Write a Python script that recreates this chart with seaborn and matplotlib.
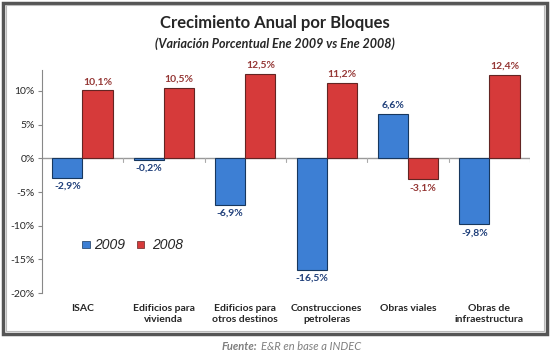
import numpy as np
import pandas as pd
import seaborn as sns
from matplotlib import pyplot as plt
from matplotlib.patches import Rectangle

categorias = ['ISAC', 'Edificios para\nvivienda', 'Edificios para\notros destinos',
              'Construcciones\npetroleras', 'Obras viales', 'Obras de\ninfraestructura']
var_2009 = [-2.9, -0.2, -6.9, -16.5, 6.6, -9.8]
var_2008 = [10.1, 10.5, 12.5, 11.2, -3.1, 12.4]
yticks = [10, 5, 0, -5, -10, -15, -20]

sns.set_style('white')
plt.rcParams['font.family'] = ['Lato', 'DejaVu Sans']

df = pd.DataFrame({
    'cat': categorias * 2,
    'valor': var_2009 + var_2008,
    'anio': ['2009'] * len(categorias) + ['2008'] * len(categorias),
})

colores = {'2009': '#3d7fd4', '2008': '#d63a3a'}
col_txt = {'2009': '#1f3f7a', '2008': '#953735'}
bordes = {'2009': '#17375e', '2008': '#632523'}

fig = plt.figure(figsize=(5.5, 3.61), dpi=100)
ax = fig.add_axes([0.076, 0.188, 0.888, 0.618])

sns.barplot(data=df, x='cat', y='valor', hue='anio', palette=colores,
            width=0.74, ax=ax, legend=False, saturation=1)

for cont, anio in zip(ax.containers, ['2009', '2008']):
    for bar in cont:
        bar.set_edgecolor(bordes[anio])
        bar.set_linewidth(0.8)
        v = bar.get_height()
        x = bar.get_x() + bar.get_width() / 2
        off = 0.6 if v >= 0 else -0.6
        ax.text(x, v + off, f'{v:.1f}%'.replace('.', ','), ha='center',
                va='bottom' if v >= 0 else 'top', fontsize=7.5, fontweight='bold',
                color=col_txt[anio])

ax.set_ylim(-20, 13.1)
ax.set_xlim(-0.5, len(categorias) - 0.5)
ax.set_yticks(yticks)
ax.set_yticklabels([f'{t}%' for t in yticks], fontsize=7.5)
ax.set_xlabel('')
ax.set_ylabel('')
ax.tick_params(axis='x', length=0, labelsize=7.5, pad=8)
ax.tick_params(axis='y', length=3, color='#888888', left=True, pad=2)
for lab in ax.get_xticklabels():
    lab.set_fontweight('bold')
for s in ['top', 'right', 'bottom']:
    ax.spines[s].set_visible(False)
ax.spines['left'].set_color('#888888')
ax.axhline(0, color='#999999', lw=1, zorder=0.5)
for b in np.arange(0.5, len(categorias), 1):
    ax.plot([b, b], [0, -0.6], color='#aaaaaa', lw=0.8)

# leyenda
ley_y = -12.8
ax.add_patch(Rectangle((0.0, ley_y - 0.55), 0.09, 1.1, facecolor=colores['2009'],
                       edgecolor=bordes['2009'], lw=0.5))
ax.text(0.14, ley_y, '2009', fontsize=10, style='italic', va='center',
        family=['Liberation Sans', 'DejaVu Sans'])
ax.add_patch(Rectangle((0.67, ley_y - 0.55), 0.09, 1.1, facecolor=colores['2008'],
                       edgecolor=bordes['2008'], lw=0.5))
ax.text(0.85, ley_y, '2008', fontsize=10, style='italic', va='center',
        family=['Liberation Sans', 'DejaVu Sans'])

fig.text(0.5, 0.935, 'Crecimiento Anual por Bloques', ha='center', va='center',
         fontsize=12, fontweight='bold')
fig.text(0.5, 0.878, '(Variación Porcentual Ene 2009 vs Ene 2008)', ha='center',
         va='center', fontsize=9, style='italic', fontweight='bold')
fig.text(0.468, 0.04, 'Fuente:', ha='right', va='center', fontsize=8,
         style='italic', fontweight='bold', color='#7f7f7f')
fig.text(0.474, 0.04, 'E&R en base a INDEC', ha='left', va='center', fontsize=8,
         style='italic', color='#7f7f7f')

fig.patches.append(Rectangle((0.005, 0.075), 0.99, 0.918, transform=fig.transFigure,
                             fill=False, edgecolor='#555555', lw=2.5))
fig.patches.append(Rectangle((0.011, 0.083), 0.978, 0.902, transform=fig.transFigure,
                             fill=False, edgecolor='#bbbbbb', lw=0.8))

fig.savefig('out.png', dpi=100)
